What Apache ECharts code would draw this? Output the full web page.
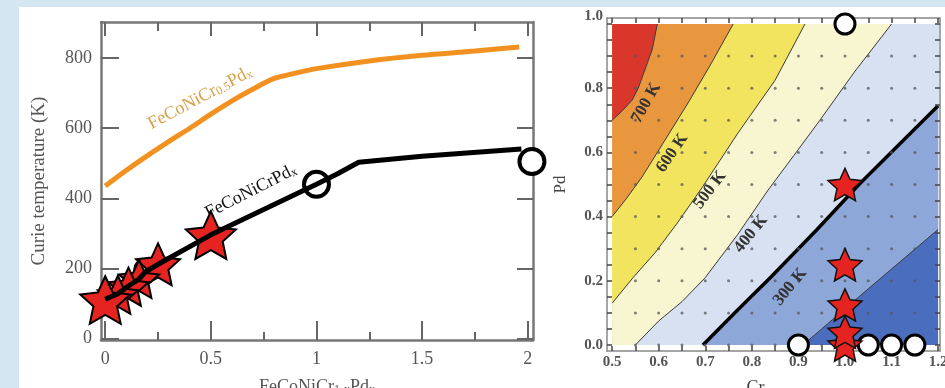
<!DOCTYPE html>
<html>
<head>
<meta charset="utf-8">
<script src="https://cdn.jsdelivr.net/npm/echarts@6/dist/echarts.min.js"></script>
<style>
  html, body { margin: 0; padding: 0; background: #d4e6f1; }
  #main { position: absolute; left: 19px; top: 7px; width: 926px; height: 381px; background: #fff; }
</style>
</head>
<body>
<div id="main"></div>
<script>
// ---- left panel: Curie temperature vs x ----
const xTicksLeft = [0, 0.5, 1, 1.5, 2];
const xMinorLeft = [0.25, 0.75, 1.25, 1.75];
const yTicksLeft = [0, 200, 400, 600, 800];

const orangeX = [0, 0.1, 0.2, 0.3, 0.4, 0.5, 0.6, 0.7, 0.8, 0.9, 1.0, 1.25, 1.5, 1.75, 1.96];
const orangeT = [435, 480, 522, 562, 600, 640, 678, 712, 742, 757, 770, 792, 808, 820, 832];

const blackX = [0, 0.06, 0.11, 0.16, 0.19, 0.25, 0.5, 1.0, 1.1, 1.2, 1.5, 1.97];
const blackT = [112, 128, 150, 170, 190, 212, 296, 440, 470, 503, 520, 541];

// drawn back to front
const starX = [0.5, 0.25, 0.16, 0.11, 0.06, 0];
const starT = [295, 212, 170, 148, 125, 110];
const circleX = [0.18, 1.0, 2.02];
const circleT = [198, 440, 505];

// ---- right panel: contour map Pd vs Cr ----
const crLabels = [0.5, 0.6, 0.7, 0.8, 0.9, 1.0, 1.1, 1.2];
const pdLabels = [0, 0.2, 0.4, 0.6, 0.8, 1.0];
const crTickMarks = [0.5, 0.55, 0.6, 0.65, 0.7, 0.75, 0.8, 0.85, 0.9, 0.95, 1.0, 1.05, 1.1, 1.15, 1.2];
const pdTickMarks = [0, 0.05, 0.1, 0.15, 0.2, 0.25, 0.3, 0.35, 0.4, 0.45, 0.5, 0.55, 0.6, 0.65, 0.7, 0.75, 0.8, 0.85, 0.9, 0.95, 1.0];

const dotCr = [0.55, 0.6, 0.65, 0.7, 0.75, 0.8, 0.85, 0.9, 0.95, 1.0, 1.05, 1.1, 1.15];
const dotPd = [0, 0.1, 0.2, 0.3, 0.4, 0.5, 0.6, 0.7, 0.8, 0.9];

const c700 = [[0.5, 0.70], [0.522, 0.73], [0.543, 0.763], [0.556, 0.80], [0.566, 0.84], [0.576, 0.88], [0.586, 0.92], [0.597, 1.0]];
const c600 = [[0.5, 0.40], [0.53, 0.455], [0.564, 0.523], [0.61, 0.63], [0.663, 0.754], [0.71, 0.87], [0.76, 1.0]];
const c500 = [[0.5, 0.13], [0.545, 0.21], [0.592, 0.287], [0.64, 0.38], [0.693, 0.49], [0.77, 0.66], [0.85, 0.825], [0.914, 1.0]];
const c400 = [[0.55, 0.0], [0.6, 0.075], [0.65, 0.135], [0.70, 0.21], [0.77, 0.345], [0.835, 0.483], [0.89, 0.59], [0.946, 0.70], [1.02, 0.85], [1.10, 1.0]];
const c300 = [[0.695, 0.0], [0.77, 0.11], [0.84, 0.21], [0.94, 0.36], [1.03, 0.50], [1.12, 0.63], [1.2, 0.745]];
const c200 = [[0.91, 0.0], [1.05, 0.175], [1.2, 0.36]];

const levelText = ['700 K', '600 K', '500 K', '400 K', '300 K'];
const levelCr = [0.573, 0.629, 0.71, 0.798, 0.882];
const levelPd = [0.754, 0.598, 0.483, 0.346, 0.181];
const levelAngle = [61, 56, 53, 51, 51];

const openCr = [1.0, 0.9, 1.05, 1.1, 1.15];
const openPd = [1.0, 0, 0, 0, 0];
const starCr = [1.0, 1.0, 1.0, 1.0, 1.0];
const starPd = [0.0, 0.04, 0.125, 0.25, 0.5];

const STAR = 'path://M0,-10L2.8,-3.85L9.51,-3.09L4.5,1.46L5.88,8.09L0,4.7L-5.88,8.09L-4.5,1.46L-9.51,-3.09L-2.8,-3.85Z';
const zip = (a, b) => a.map((v, i) => [v, b[i]]);

// filled bands: region above/left of each contour line
function regionAbove(line) {
  const pts = line.slice();
  const s = line[0], e = line[line.length - 1];
  if (e[0] >= 1.2 - 1e-6 && e[1] < 1) pts.push([1.2, 1]);
  pts.push([0.5, 1]);
  if (s[0] > 0.5 + 1e-6) pts.push([0.5, 0]);
  return pts;
}
const regions = [
  { pts: [[0.5, 0], [1.2, 0], [1.2, 1], [0.5, 1]], color: '#4a6ebd' },
  { pts: regionAbove(c200), color: '#8da7d9' },
  { pts: regionAbove(c300), color: '#d7e1f2' },
  { pts: regionAbove(c400), color: '#f8f6d0' },
  { pts: regionAbove(c500), color: '#f2e45f' },
  { pts: regionAbove(c600), color: '#e8973f' },
  { pts: regionAbove(c700), color: '#d9372c' },
];

const dots = [];
dotPd.forEach((p) => dotCr.forEach((c) => dots.push([c, p])));

const serif = '"Liberation Serif", "DejaVu Serif", serif';
const frameL = { show: true, onZero: false, lineStyle: { color: '#777', width: 2.5 } };
const frameR = { show: true, onZero: false, lineStyle: { color: '#888', width: 1.5 } };
const noLine = { show: false, onZero: false };
const subRich = { s: { fontSize: 12, fontFamily: serif, verticalAlign: 'bottom', padding: [6, 0, 0, 0] } };

const myChart = echarts.init(document.getElementById('main'));

const contourLines = [c200, c300, c400, c500, c600, c700].map((line) => ({
  type: 'line',
  xAxisIndex: 4,
  yAxisIndex: 2,
  data: line,
  symbol: 'none',
  z: 3,
  lineStyle: line === c300 ? { color: '#000', width: 3.5 } : { color: '#3a3a3a', width: 1 },
}));

myChart.setOption({
  animation: false,
  grid: [
    { left: 82, top: 15, width: 432, height: 318, containLabel: false, outerBoundsMode: 'none' },
    { left: 588, top: 11, width: 333, height: 333, containLabel: false, outerBoundsMode: 'none' },
  ],
  xAxis: [
    {
      gridIndex: 0, type: 'value', min: -0.02, max: 2.025, position: 'bottom',
      axisLine: frameL, splitLine: { show: false },
      axisTick: { inside: true, length: 19, customValues: xTicksLeft, lineStyle: { color: '#666', width: 2 } },
      axisLabel: { customValues: xTicksLeft, fontFamily: serif, fontSize: 18, color: '#555', margin: 10 },
      name: 'FeCoNiCr{s|1-x}Pd{s|x}', nameLocation: 'middle', nameGap: 38,
      nameTextStyle: { fontFamily: serif, fontSize: 18, color: '#555', rich: subRich },
    },
    {
      gridIndex: 0, type: 'value', min: -0.02, max: 2.025, position: 'bottom',
      axisLine: noLine, splitLine: { show: false }, axisLabel: { show: false },
      axisTick: { inside: true, length: 8, customValues: xMinorLeft, lineStyle: { color: '#666', width: 2 } },
    },
    {
      gridIndex: 0, type: 'value', min: -0.02, max: 2.025, position: 'top',
      axisLine: frameL, splitLine: { show: false }, axisLabel: { show: false },
      axisTick: { inside: true, length: 14, customValues: xTicksLeft, lineStyle: { color: '#666', width: 2 } },
    },
    {
      gridIndex: 0, type: 'value', min: -0.02, max: 2.025, position: 'top',
      axisLine: noLine, splitLine: { show: false }, axisLabel: { show: false },
      axisTick: { inside: true, length: 9, customValues: xMinorLeft, lineStyle: { color: '#666', width: 2 } },
    },
    {
      gridIndex: 1, type: 'value', min: 0.489, max: 1.204, position: 'bottom', z: 5,
      axisLine: frameR, splitLine: { show: false },
      axisTick: { inside: true, length: 5, customValues: crTickMarks, lineStyle: { color: '#444', width: 1.5 } },
      axisLabel: {
        customValues: crLabels, formatter: (v) => v.toFixed(1),
        fontFamily: serif, fontWeight: 'bold', fontSize: 15, color: '#555', margin: 4,
      },
      name: 'Cr', nameLocation: 'middle', nameGap: 28,
      nameTextStyle: { fontFamily: serif, fontSize: 18, color: '#444', padding: [0, 36, 0, 0] },
    },
    {
      gridIndex: 1, type: 'value', min: 0.489, max: 1.204, position: 'top', z: 5,
      axisLine: frameR, splitLine: { show: false }, axisLabel: { show: false },
      axisTick: { inside: true, length: 5, customValues: crTickMarks, lineStyle: { color: '#444', width: 1.5 } },
    },
  ],
  yAxis: [
    {
      gridIndex: 0, type: 'value', min: -4, max: 903, position: 'left',
      axisLine: frameL, splitLine: { show: false },
      axisTick: { inside: true, length: 18, customValues: yTicksLeft, lineStyle: { color: '#666', width: 2 } },
      axisLabel: { customValues: yTicksLeft, fontFamily: serif, fontSize: 18, color: '#555', margin: 9 },
      name: 'Curie temperature (K)', nameLocation: 'middle', nameGap: 52,
      nameTextStyle: { fontFamily: serif, fontSize: 19, color: '#555' },
    },
    {
      gridIndex: 0, type: 'value', min: -4, max: 903, position: 'right',
      axisLine: frameL, splitLine: { show: false }, axisLabel: { show: false },
      axisTick: { inside: true, length: 16, customValues: yTicksLeft, lineStyle: { color: '#666', width: 2 } },
    },
    {
      gridIndex: 1, type: 'value', min: -0.0187, max: 1.0187, position: 'left', z: 5,
      axisLine: frameR, splitLine: { show: false },
      axisTick: { inside: true, length: 5, customValues: pdTickMarks, lineStyle: { color: '#444', width: 1.5 } },
      axisLabel: {
        customValues: pdLabels,
        formatter: (v) => (v > 0.99 ? '{t|1.0}' : v.toFixed(1)),
        rich: { t: { fontFamily: serif, fontWeight: 'bold', fontSize: 15, color: '#555', padding: [0, 0, 16, 0] } },
        fontFamily: serif, fontWeight: 'bold', fontSize: 15, color: '#555', margin: 4,
      },
      name: 'Pd', nameLocation: 'middle', nameGap: 38,
      nameTextStyle: { fontFamily: serif, fontSize: 17, color: '#444' },
    },
    {
      gridIndex: 1, type: 'value', min: -0.0187, max: 1.0187, position: 'right', z: 5,
      axisLine: frameR, splitLine: { show: false }, axisLabel: { show: false },
      axisTick: { inside: true, length: 5, customValues: pdTickMarks, lineStyle: { color: '#444', width: 1.5 } },
    },
  ],
  series: [
    // left panel
    {
      type: 'line', xAxisIndex: 0, yAxisIndex: 0, data: zip(orangeX, orangeT),
      smooth: 0.3, symbol: 'none', lineStyle: { color: '#f2911f', width: 5 },
    },
    {
      type: 'line', xAxisIndex: 0, yAxisIndex: 0, data: zip(blackX, blackT),
      symbol: 'none', lineStyle: { color: '#000', width: 5 },
    },
    {
      type: 'scatter', xAxisIndex: 0, yAxisIndex: 0, data: zip(circleX, circleT),
      symbol: 'circle', symbolSize: (v) => (v[0] < 0.5 ? 16 : 25),
      itemStyle: { color: '#fff', borderColor: '#000', borderWidth: 4, opacity: 1 },
    },
    {
      type: 'scatter', xAxisIndex: 0, yAxisIndex: 0, data: zip(starX, starT),
      symbol: STAR, symbolSize: (v) => (v[0] > 0.3 ? 50 : v[0] > 0.2 ? 44 : v[0] > 0.01 ? 40 : 50),
      symbolKeepAspect: true,
      itemStyle: { color: '#e52421', borderColor: '#000', borderWidth: 2, opacity: 1 },
    },
    {
      type: 'custom', xAxisIndex: 0, yAxisIndex: 0,
      data: [[0.449, 686, 0], [0.69, 420, 1]],
      renderItem: (params, api) => {
        const p = api.coord([api.value(0), api.value(1)]);
        const orange = api.value(2) === 0;
        return {
          type: 'text', x: p[0], y: p[1],
          rotation: ((orange ? 28 : 27) * Math.PI) / 180,
          style: {
            text: orange ? 'FeCoNiCr{s|0.5}Pd{s|x}' : 'FeCoNiCrPd{s|x}',
            fill: orange ? '#d6a047' : '#111',
            font: '18px ' + serif,
            align: 'center', verticalAlign: 'middle',
            rich: subRich,
          },
        };
      },
    },
    // right panel
    {
      type: 'custom', xAxisIndex: 4, yAxisIndex: 2, z: 1,
      data: regions.map((r, i) => [i]),
      renderItem: (params, api) => {
        const r = regions[api.value(0)];
        return {
          type: 'polygon',
          shape: { points: r.pts.map((p) => api.coord(p)) },
          style: { fill: r.color },
        };
      },
    },
    ...contourLines,
    {
      type: 'scatter', xAxisIndex: 4, yAxisIndex: 2, data: dots, z: 3,
      symbol: 'circle', symbolSize: 3, itemStyle: { color: '#555', opacity: 0.75 },
    },
    {
      type: 'custom', xAxisIndex: 4, yAxisIndex: 2, z: 4,
      data: levelText.map((t, i) => [levelCr[i], levelPd[i], i]),
      renderItem: (params, api) => {
        const p = api.coord([api.value(0), api.value(1)]);
        const i = api.value(2);
        return {
          type: 'text', x: p[0], y: p[1],
          rotation: (levelAngle[i] * Math.PI) / 180,
          style: {
            text: levelText[i], fill: '#333', font: 'bold 17px ' + serif,
            align: 'center', verticalAlign: 'middle',
          },
        };
      },
    },
    {
      type: 'scatter', xAxisIndex: 4, yAxisIndex: 2, data: zip(openCr, openPd), z: 6,
      symbol: 'circle', symbolSize: 20,
      itemStyle: { color: '#fff', borderColor: '#000', borderWidth: 3, opacity: 1 },
    },
    {
      type: 'scatter', xAxisIndex: 4, yAxisIndex: 2, data: zip(starCr, starPd), z: 6,
      symbol: STAR, symbolSize: 34, symbolKeepAspect: true,
      itemStyle: { color: '#e52421', borderColor: '#111', borderWidth: 1.5, opacity: 1 },
    },
  ],
});
</script>
</body>
</html>
